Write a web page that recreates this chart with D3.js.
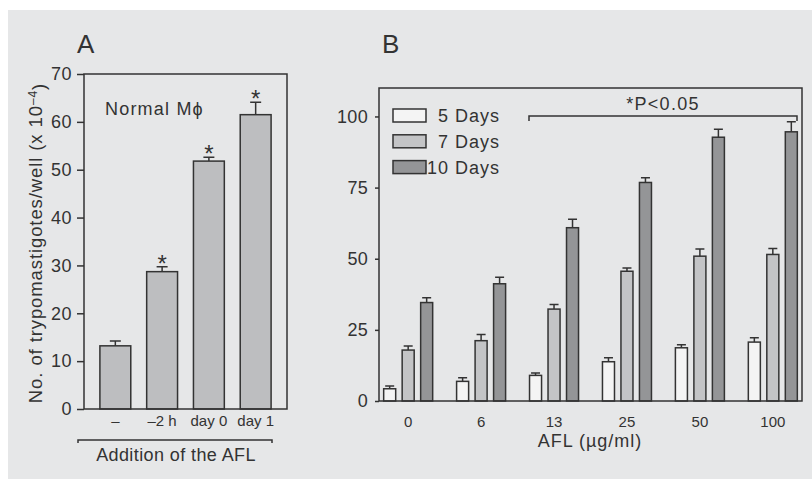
<!doctype html>
<html lang="en">
<head>
<meta charset="UTF-8">
<title>AFL trypomastigotes</title>
<script src="https://cdn.jsdelivr.net/npm/d3@7"></script>
<style>
    body{ margin:0; background:#fff; }
    svg{ display:block; font-family:"Liberation Sans", Arial, sans-serif; fill:#333; }
    .frame{ fill:none; stroke:#333; stroke-width:1.5px; }
    .bar{ stroke:#333; stroke-width:1.5px; }
    .err{ stroke:#333; stroke-width:1.5px; fill:none; }
    .axis .domain{ display:none; }
    .axis line{ stroke:#333; stroke-width:1.5px; }
    .axis text{ fill:#333; font-family:"Liberation Sans", Arial, sans-serif; }
</style>
</head>
<body>
<svg width="812" height="479"></svg>
<script>
    // panel A data
    const addition = ["\u2013", "\u20132 h", "day 0", "day 1"];
    const countA = [13.2, 28.7, 51.8, 61.5];
    const errA = [1.0, 1.0, 0.8, 2.6];
    const starA = [false, true, true, true];
    const ticksA = [0, 10, 20, 30, 40, 50, 60, 70];

    // panel B data
    const doses = ["0", "6", "13", "25", "50", "100"];
    const series = ["5 Days", "7 Days", "10 Days"];
    const days5 = [4.3, 6.9, 9.0, 13.8, 18.7, 20.7];
    const days7 = [17.9, 21.2, 32.3, 45.6, 50.9, 51.5];
    const days10 = [34.6, 41.2, 60.9, 76.8, 92.7, 94.6];
    const err5 = [1.0, 1.3, 0.8, 1.4, 1.1, 1.5];
    const err7 = [1.4, 2.2, 1.6, 1.1, 2.5, 2.1];
    const err10 = [1.7, 2.3, 3.0, 1.7, 2.8, 3.5];
    const ticksB = [0, 25, 50, 75, 100];

    const colors = {"5 Days":"#f4f4f4", "7 Days":"#c3c4c6", "10 Days":"#949597"};

    let svg = d3.select("svg");

    // grey background
    svg.append("rect").attr("x",8).attr("y",10).attr("width",804).attr("height",469).attr("fill","#e6e7e8");

    // ---------- panel A ----------
    let A = {left:84, right:287, top:74, bottom:409};
    let xA = d3.scaleBand().domain(addition).range([A.left, A.right]).paddingInner(0.34).paddingOuter(0.34);
    let yA = d3.scaleLinear().domain([0,70]).range([A.bottom, A.top]);

    let gA = svg.append("g");

    gA.append("g").attr("class","axis")
        .attr("transform",`translate(${A.left},0)`)
        .call(d3.axisLeft(yA).tickValues(ticksA).tickSize(7).tickPadding(5))
        .selectAll("text").style("font-size","18px").style("letter-spacing","0.5px");

    let dataA = addition.map((k,i)=>({k, v:countA[i], e:errA[i], s:starA[i]}));

    gA.selectAll(".barA").data(dataA).enter().append("rect")
        .attr("class","bar")
        .attr("x",d=>xA(d.k)).attr("width",xA.bandwidth())
        .attr("y",d=>yA(d.v)).attr("height",d=>yA(0)-yA(d.v))
        .attr("fill","#bdbec0");

    gA.selectAll(".errA").data(dataA).enter().append("path")
        .attr("class","err")
        .attr("d",d=>{
            let cx = xA(d.k)+xA.bandwidth()/2, y1 = yA(d.v), y2 = yA(d.v+d.e);
            return `M${cx},${y1}V${y2}M${cx-5.5},${y2}H${cx+5.5}`;
        });

    gA.selectAll(".starA").data(dataA.filter(d=>d.s)).enter().append("text")
        .attr("x",d=>xA(d.k)+xA.bandwidth()/2)
        .attr("y",d=>yA(d.v+d.e)+5)
        .attr("text-anchor","middle").style("font-size","24px")
        .text("*");

    gA.append("rect").attr("class","frame")
        .attr("x",A.left).attr("y",A.top).attr("width",A.right-A.left).attr("height",A.bottom-A.top);

    gA.selectAll(".labA").data(addition).enter().append("text")
        .attr("x",d=>xA(d)+xA.bandwidth()/2).attr("y",426)
        .attr("text-anchor","middle").style("font-size","15px")
        .text(d=>d);

    gA.append("text").attr("x",105).attr("y",115)
        .style("font-size","18px").style("letter-spacing","1.2px").text("Normal M\u03d5");
    gA.append("text").attr("x",77).attr("y",53).style("font-size","26px").text("A");

    let ylab = gA.append("text")
        .attr("transform","translate(42,243) rotate(-90)")
        .attr("text-anchor","middle").style("font-size","18.5px").style("letter-spacing","0.9px");
    ylab.append("tspan").text("No. of trypomastigotes/well (x 10");
    ylab.append("tspan").attr("dy","-0.45em").style("font-size","12px").text("\u20134");
    ylab.append("tspan").attr("dy","0.45em").text(")");

    gA.append("path").attr("class","err")
        .attr("d","M78,443V440H272V443");
    gA.append("text").attr("x",176).attr("y",461).attr("text-anchor","middle")
        .style("font-size","18px").style("letter-spacing","0.4px").text("Addition of the AFL");

    // ---------- panel B ----------
    let B = {left:379, right:802, top:88, bottom:401};
    let xB = d3.scalePoint().domain(doses).range([B.left, B.right]).padding(0.4);
    let xSub = d3.scaleBand().domain(series).range([-24.5, 24.5]).paddingInner(0.35);
    let yB = d3.scaleLinear().domain([0,110]).range([B.bottom, B.top]);

    let gB = svg.append("g");

    gB.append("g").attr("class","axis")
        .attr("transform",`translate(${B.left},0)`)
        .call(d3.axisLeft(yB).tickValues(ticksB).tickSize(4).tickPadding(7))
        .selectAll("text").style("font-size","18px").style("letter-spacing","0.3px");

    let vals = {"5 Days":days5, "7 Days":days7, "10 Days":days10};
    let errs = {"5 Days":err5, "7 Days":err7, "10 Days":err10};
    let dataB = [];
    series.forEach(s=>doses.forEach((d,i)=>dataB.push({s, d, v:vals[s][i], e:errs[s][i]})));

    gB.selectAll(".barB").data(dataB).enter().append("rect")
        .attr("class","bar")
        .attr("x",d=>xB(d.d)+xSub(d.s)).attr("width",xSub.bandwidth())
        .attr("y",d=>yB(d.v)).attr("height",d=>yB(0)-yB(d.v))
        .attr("fill",d=>colors[d.s]);

    gB.selectAll(".errB").data(dataB).enter().append("path")
        .attr("class","err")
        .attr("d",d=>{
            let cx = xB(d.d)+xSub(d.s)+xSub.bandwidth()/2, y1 = yB(d.v), y2 = yB(d.v+d.e);
            return `M${cx},${y1}V${y2}M${cx-4.5},${y2}H${cx+4.5}`;
        });

    gB.append("rect").attr("class","frame")
        .attr("x",B.left).attr("y",B.top).attr("width",B.right-B.left).attr("height",B.bottom-B.top);

    gB.selectAll(".labB").data(doses).enter().append("text")
        .attr("x",d=>xB(d)).attr("y",427)
        .attr("text-anchor","middle").style("font-size","15px")
        .text(d=>d);

    gB.append("text").attr("x",590).attr("y",447).attr("text-anchor","middle")
        .style("font-size","18px").style("letter-spacing","1px").text("AFL (\u00b5g/ml)");

    gB.append("text").attr("x",382).attr("y",53).style("font-size","26px").text("B");

    // significance bracket
    gB.append("path").attr("class","err")
        .attr("d",`M529,121V116H797V121`);
    gB.append("text").attr("x",663).attr("y",110).attr("text-anchor","middle")
        .style("font-size","18px").style("letter-spacing","1.3px").text("*P<0.05");

    // legend
    let legend = gB.selectAll(".leg").data(series).enter().append("g")
        .attr("transform",(d,i)=>`translate(393,${109+i*25.8})`);
    legend.append("rect").attr("class","bar")
        .attr("width",33).attr("height",13).attr("fill",d=>colors[d]);
    legend.append("text").attr("x",107).attr("y",13).attr("text-anchor","end")
        .style("font-size","18px").style("letter-spacing","1px").text(d=>d);
</script>
</body>
</html>
